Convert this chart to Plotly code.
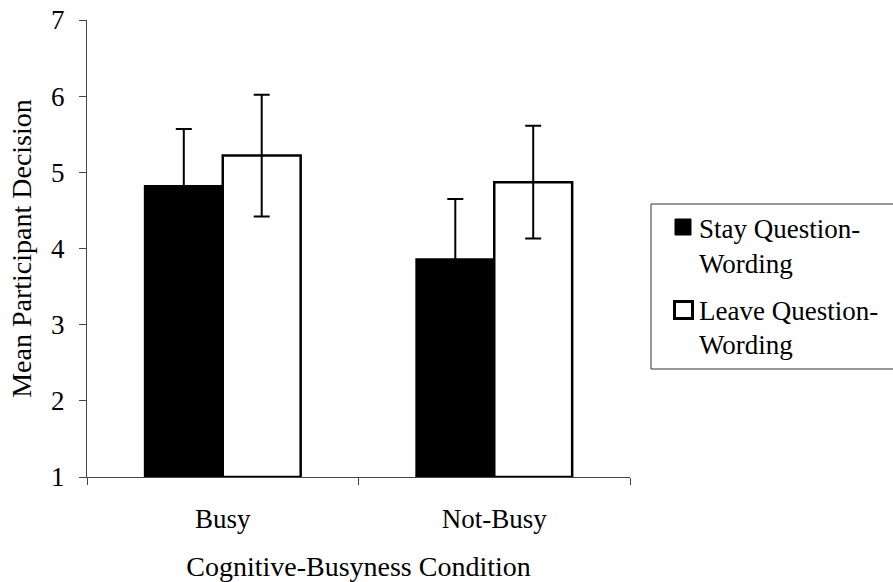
import plotly.graph_objects as go

# Cell means and error-bar half-widths for the 2 x 2 design
conditions = ["Busy", "Not-Busy"]
stay_means = [4.82, 3.86]
stay_errors = [0.75, 0.79]
leave_means = [5.22, 4.87]
leave_errors = [0.80, 0.74]
series_names = ["Stay Question-<br>Wording", "Leave Question-<br>Wording"]
y_ticks = [1, 2, 3, 4, 5, 6, 7]

W, H = 893, 582
L, R, T, B = 87, 263, 20, 105
FONT = "Liberation Serif, Times New Roman, serif"

fig = go.Figure()
fig.add_trace(go.Bar(
    x=conditions, y=[m - 1 for m in stay_means], base=1,
    name=series_names[0],
    marker=dict(color="black", line=dict(color="black", width=2)),
    error_y=dict(type="data", array=stay_errors, visible=True,
                 color="black", thickness=2, width=8),
    showlegend=False,
))
fig.add_trace(go.Bar(
    x=conditions, y=[m - 1 for m in leave_means], base=1,
    name=series_names[1],
    marker=dict(color="white", line=dict(color="black", width=2.5)),
    error_y=dict(type="data", array=leave_errors, visible=True,
                 color="black", thickness=2, width=8),
    showlegend=False,
))


def px_x(x):
    return (x - L) / (W - L - R)


def px_y(y):
    return 1 - (y - T) / (H - T - B)


# Legend frame (runs off the right edge of the page)
shapes = [
    dict(type="rect", xref="paper", yref="paper",
         x0=px_x(651), x1=px_x(900), y0=px_y(369), y1=px_y(204),
         line=dict(color="#333", width=1), fillcolor="white", layer="below"),
    dict(type="rect", xref="paper", yref="paper",
         x0=px_x(675), x1=px_x(691), y0=px_y(235), y1=px_y(219),
         line=dict(color="black", width=1), fillcolor="black"),
    dict(type="rect", xref="paper", yref="paper",
         x0=px_x(674.5), x1=px_x(692.5), y0=px_y(318.5), y1=px_y(301.5),
         line=dict(color="black", width=3), fillcolor="white"),
]

annotations = []
legend_lines = [("Stay Question-", 236), ("Wording", 271),
                ("Leave Question-", 318), ("Wording", 352)]
for text, baseline in legend_lines:
    annotations.append(dict(
        x=px_x(697), y=px_y(baseline + 10), xref="paper", yref="paper",
        xanchor="left", yanchor="bottom", text=text, showarrow=False,
        font=dict(family=FONT, size=27, color="black"),
    ))

fig.update_layout(
    width=W, height=H,
    margin=dict(l=L, r=R, t=T, b=B, autoexpand=False),
    plot_bgcolor="white", paper_bgcolor="white",
    barmode="group", bargap=0.426, bargroupgap=0,
    font=dict(family=FONT, color="black", size=27),
    shapes=shapes, annotations=annotations,
    xaxis=dict(
        automargin=False,
        showgrid=False, showline=True, linecolor="#444", linewidth=1,
        ticks="outside", tickson="boundaries", ticklen=7, tickcolor="#444",
        tickfont=dict(size=27), ticklabelstandoff=18,
        title=dict(text="Cognitive-Busyness Condition",
                   font=dict(size=28), standoff=25),
    ),
    yaxis=dict(
        automargin=False,
        range=[1, 7], tickvals=y_ticks, showgrid=False, zeroline=False,
        showline=True, linecolor="#444", linewidth=1,
        ticks="outside", ticklen=7, tickcolor="#444",
        tickfont=dict(size=27), ticklabelstandoff=9,
        title=dict(text="Mean Participant Decision",
                   font=dict(size=28), standoff=11),
    ),
)

fig.write_html("out.html")
